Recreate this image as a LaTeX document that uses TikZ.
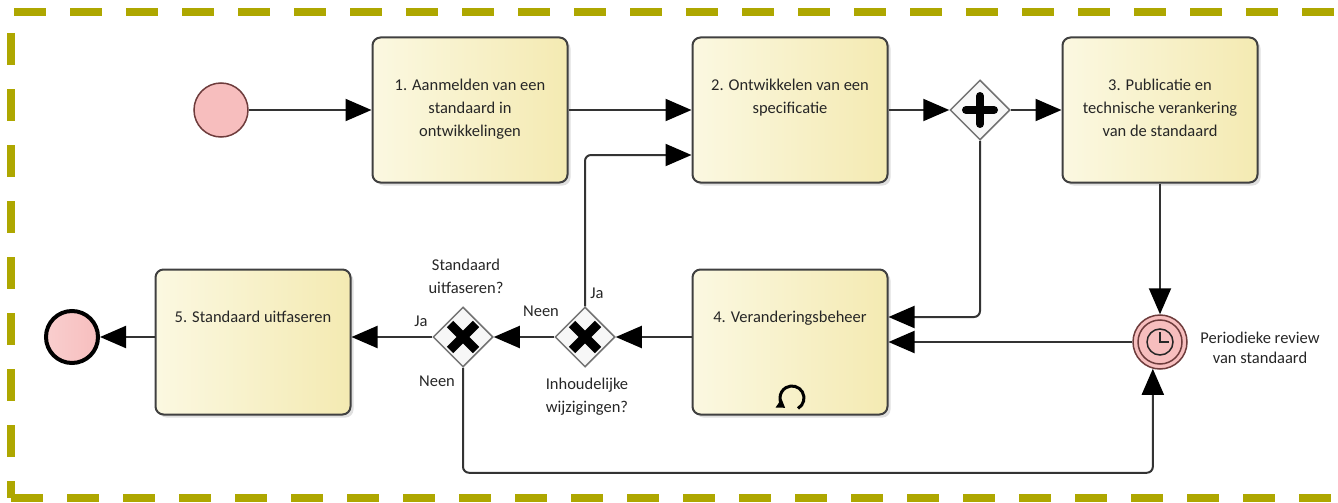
\documentclass[tikz,border=0pt]{standalone}
\usepackage{fontspec}
\setmainfont{Carlito}
\usepackage{xcolor}
\usetikzlibrary{arrows.meta,positioning,shapes.geometric,shadows,calc}

\definecolor{frameolive}{RGB}{174,167,0}
\definecolor{taskleft}{RGB}{251,248,225}
\definecolor{taskright}{RGB}{244,234,178}
\definecolor{eventpink}{RGB}{247,190,190}
\definecolor{eventline}{RGB}{110,60,60}

\begin{document}
\begin{tikzpicture}[
  x=1pt, y=-1pt,
  font=\fontsize{16.5}{23}\selectfont,
  task/.style={rectangle, rounded corners=8pt, draw=black!75, line width=2pt, left color=taskleft, right color=taskright, minimum width=195pt, minimum height=145pt, drop shadow={shadow xshift=3pt, shadow yshift=-3pt, opacity=0.25}},
  tasktext/.style={anchor=north, inner sep=0pt, align=center, text=black!85},
  lbl/.style={inner sep=0pt, align=center, text=black!85},
  gate/.style={diamond, aspect=1, minimum width=60pt, minimum height=60pt, inner sep=0pt, draw=black!55, line width=1.5pt, fill=gray!6},
  xgate/.style={gate, path picture={
    \draw[line width=9pt, black] ([shift={(-13pt,-13pt)}]path picture bounding box.center) -- ([shift={(13pt,13pt)}]path picture bounding box.center)
      ([shift={(-13pt,13pt)}]path picture bounding box.center) -- ([shift={(13pt,-13pt)}]path picture bounding box.center);}},
  pgate/.style={gate, path picture={
    \draw[line width=8pt, line cap=round, black] ([xshift=-14pt]path picture bounding box.center) -- ([xshift=14pt]path picture bounding box.center)
      ([yshift=-14pt]path picture bounding box.center) -- ([yshift=14pt]path picture bounding box.center);}},
  startev/.style={circle, minimum size=54pt, inner sep=0pt, draw=eventline, line width=1.5pt, fill=eventpink},
  endev/.style={circle, minimum size=52pt, inner sep=0pt, draw=black, line width=4pt, left color=eventpink!75, right color=eventpink},
  timerev/.style={circle, minimum size=54pt, inner sep=0pt, draw=eventline, line width=1.5pt, fill=eventpink, path picture={
    \draw[eventline, line width=1.5pt] (path picture bounding box.center) circle[radius=22pt];
    \draw[black!85, line width=1.5pt] (path picture bounding box.center) circle[radius=13pt];
    \draw[black!85, line width=1.5pt] (path picture bounding box.center) ++(0pt,10pt) -- (path picture bounding box.center) -- ++(9pt,0pt);}},
  flow/.style={draw=black!80, line width=2pt, rounded corners=6pt, -{Triangle[length=26pt,width=22pt,color=black]}},
  frame/.style={draw=frameolive, line width=8pt, dash pattern=on 32pt off 24pt}
]
\useasboundingbox (0,0) rectangle (1338,503);

% Dashed frame
\draw[frame] (14,12) -- (1338,12);
\draw[frame] (11,33) -- (11,498);
\draw[frame] (11,498) -- (1338,498);

% Upper row
\node[startev] (start) at (221,110) {};
\node[task] (b1) at (470,110) {};
\node[tasktext] (t1) at ([yshift=-42pt]b1.north) {1. Aanmelden van een\\standaard in\\ontwikkelingen};
\node[task] (b2) at (790,110) {};
\node[tasktext] (t2) at ([yshift=-42pt]b2.north) {2. Ontwikkelen van een\\specificatie};
\node[pgate] (pgw) at (980,110) {};
\node[task] (b3) at (1160,110) {};
\node[tasktext] (t3) at ([yshift=-42pt]b3.north) {3. Publicatie en\\technische verankering\\van de standaard};

% Lower row
\node[endev] (endev) at (72,337) {};
\node[task] (b5) at (253,342) {};
\node[tasktext] (t5) at ([yshift=-42pt]b5.north) {5. Standaard uitfaseren};
\node[xgate] (x1) at (463,337) {};
\node[xgate] (x2) at (585,337) {};
\node[task] (b4) at (790,342) {};
\node[tasktext] (t4) at ([yshift=-42pt]b4.north) {4. Veranderingsbeheer};
\node[timerev] (timer) at (1160,342) {};

% Loop marker
\coordinate (loopc) at (792,398);
\draw[line width=3pt, black, -{Triangle[length=8pt,width=10pt]}] (loopc) ++(60:12) arc[start angle=60, end angle=-235, radius=12];

% Labels
\node[lbl] (q1) at (466,276) {Standaard\\uitfaseren?};
\node[lbl] (q2) at (587,397) {Inhoudelijke\\wijzigingen?};
\node[lbl] (ja1) at (421,321) {Ja};
\node[lbl] (neen1) at (437,381) {Neen};
\node[lbl] (ja2) at (597,293) {Ja};
\node[lbl] (neen2) at (541,311) {Neen};
\node[lbl, font=\fontsize{16.5}{20}\selectfont] (tlbl) at (1260,348) {Periodieke review\\van standaard};

% Flows
\draw[flow] (start) -- (b1);
\draw[flow] (b1) -- (b2);
\draw[flow] (b2) -- (pgw);
\draw[flow] (pgw) -- (b3);
\draw[flow] (pgw.south) |- ([yshift=25pt]b4.east);
\draw[flow] (b3) -- (timer);
\draw[flow] (timer) -- (b4);
\draw[flow] ([yshift=5pt]b4.west) -- (x2.east);
\draw[flow] (x2) -- (x1);
\draw[flow] (x1) -- ([yshift=5pt]b5.east);
\draw[flow] ([yshift=5pt]b5.west) -- (endev.east);
\draw[flow] (x2.north) |- ([yshift=-45pt]b2.west);
\draw[flow] (x1.south) -- ++(0,105) -| (timer.-105);

\end{tikzpicture}
\end{document}
